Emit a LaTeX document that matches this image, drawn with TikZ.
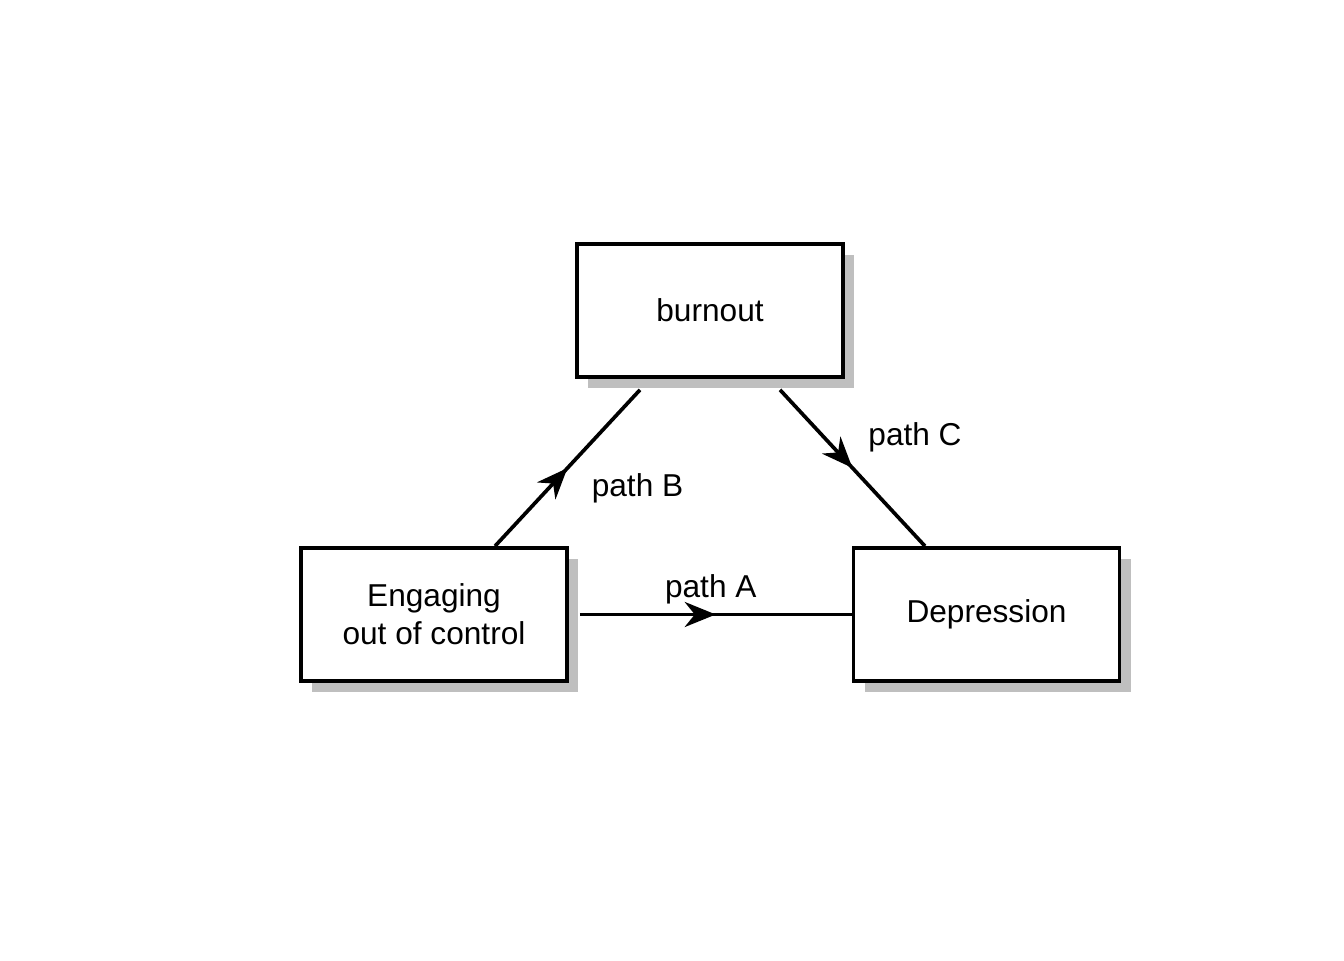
\documentclass[tikz,border=0pt]{standalone}
\usepackage{fontspec}
\setmainfont{Liberation Sans}
\usetikzlibrary{calc}
\usetikzlibrary{arrows.meta}
\usetikzlibrary{shadows}
\usetikzlibrary{decorations.markings}
\begin{document}
\begin{tikzpicture}[
  box/.style={draw, line width=2.1pt, fill=white, minimum width=5.32cm, minimum height=2.66cm,
    align=center, font=\fontsize{18}{21.6}\selectfont,
    drop shadow={shadow xshift=0.22cm, shadow yshift=-0.22cm, fill=black!25, opacity=1}},
  link/.style={line width=2.1pt, postaction={decorate},
    decoration={markings, mark=at position 0.5 with {\arrow{Stealth[length=0.62cm, width=0.5cm, inset=0.2cm]}}}},
  lab/.style={font=\fontsize{18}{21.6}\selectfont}
]
\useasboundingbox (0,0) rectangle (26.88,19.2);
\node[box] (burn) at (14.2,12.99) {burnout};
\node[box] (eng) at (8.68,6.91) {Engaging\\ out of control};
\node[box] (dep) at (19.73,6.91) {Depression};
\draw[link] ([xshift=0.22cm]eng.east) -- (dep.west) node[lab, pos=0.5, yshift=0.5cm, xshift=-0.1cm]{path A};
\draw[link] ([xshift=1.22cm]eng.north) -- ([xshift=-1.4cm,yshift=-0.22cm]burn.south) node[lab, pos=0.5, xshift=1.4cm, yshift=-0.41cm]{path B};
\draw[link] ([xshift=1.4cm,yshift=-0.22cm]burn.south) -- ([xshift=-1.23cm]dep.north) node[lab, pos=0.5, xshift=1.25cm, yshift=0.62cm]{path C};
\end{tikzpicture}
\end{document}
